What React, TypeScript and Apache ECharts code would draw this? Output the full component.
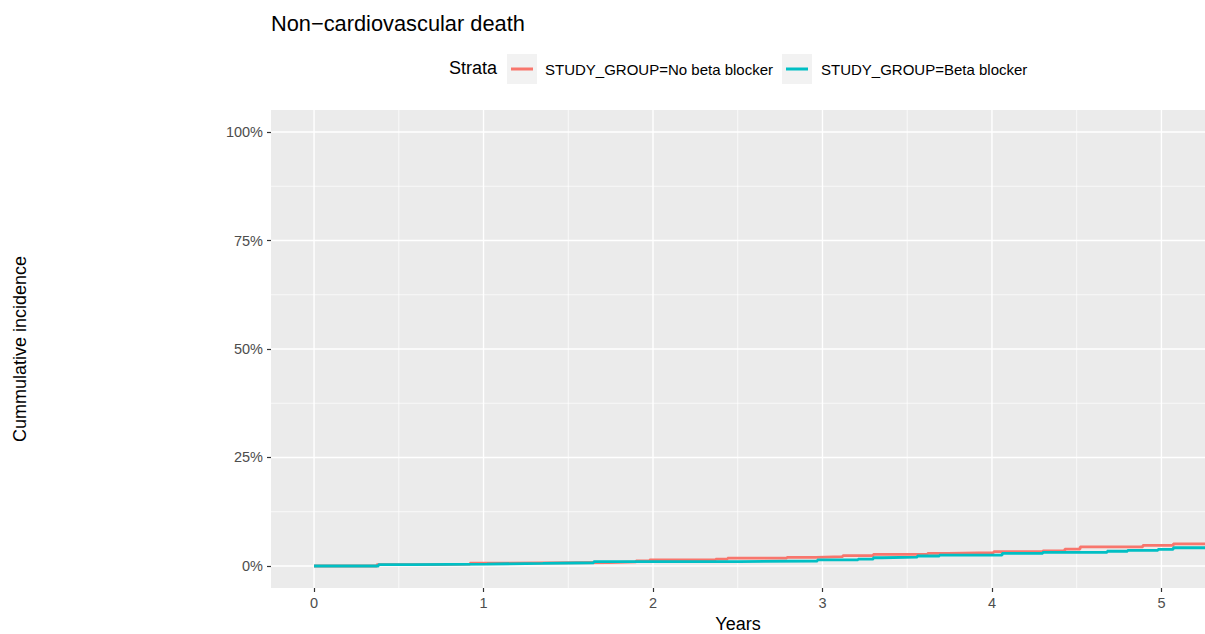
import React, { useEffect, useRef } from "react";
import * as echarts from "echarts";

// Cumulative incidence (%) step data
const noBbTimes = [0, 0.37, 0.70, 0.92, 1.13, 1.74, 1.90, 1.98, 2.37, 2.44, 2.79, 2.96, 3.12, 3.30, 3.62, 3.74, 4.01, 4.30, 4.43, 4.52, 4.89, 5.07, 5.26];
const noBbValues = [0, 0.3, 0.45, 0.65, 0.8, 0.95, 1.2, 1.4, 1.6, 1.8, 2.0, 2.15, 2.4, 2.7, 2.9, 3.05, 3.3, 3.5, 3.9, 4.4, 4.75, 5.1, 5.1];
const bbTimes = [0, 0.38, 0.58, 1.02, 1.35, 1.65, 2.51, 2.97, 3.21, 3.30, 3.35, 3.56, 3.69, 4.06, 4.30, 4.68, 4.80, 4.98, 5.07, 5.26];
const bbValues = [0, 0.3, 0.45, 0.6, 0.75, 1.0, 1.15, 1.4, 1.6, 1.9, 2.05, 2.3, 2.5, 2.9, 3.15, 3.4, 3.6, 3.85, 4.2, 4.2];

const xMajor = [0, 1, 2, 3, 4, 5];
const xMinor = [0.5, 1.5, 2.5, 3.5, 4.5];
const yMajor = [0, 25, 50, 75, 100];
const yMinor = [12.5, 37.5, 62.5, 87.5];

const seriesNames = ["STUDY_GROUP=No beta blocker", "STUDY_GROUP=Beta blocker"];
const colors = ["#F8766D", "#00BFC4"];

const FONT = "Liberation Sans, Arial, Helvetica, sans-serif";

export default function App() {
  const ref = useRef<HTMLDivElement>(null);
  useEffect(() => {
    if (!ref.current) return;
    const chart = echarts.init(ref.current, undefined, { renderer: "svg" });
    const gridData: number[][] = [
      ...xMajor.map((v) => [0, v, 1]),
      ...xMinor.map((v) => [0, v, 0]),
      ...yMajor.map((v) => [1, v, 1]),
      ...yMinor.map((v) => [1, v, 0]),
    ];
    const option: any = {
      animation: false,
      textStyle: { fontFamily: FONT },
      title: {
        text: "Non\u2212cardiovascular death",
        left: 271,
        top: 12,
        padding: 0,
        textStyle: { fontSize: 21.8, fontWeight: "normal", color: "#000", fontFamily: FONT },
      },
      legend: [0, 1].map((i) => ({
        data: [seriesNames[i]],
        left: i === 0 ? 511 : 786,
        top: 60,
        padding: 0,
        icon: "rect",
        itemWidth: 22,
        itemHeight: 3,
        selectedMode: false,
        textStyle: {
          fontSize: 15,
          color: "#000",
          fontFamily: FONT,
          lineHeight: 18,
          padding: [0, 0, 0, i === 0 ? 7 : 8],
        },
      })),
      grid: {
        left: 271,
        right: 0,
        top: 110,
        bottom: 46,
        show: true,
        backgroundColor: "#EBEBEB",
        borderWidth: 0,
        outerBoundsMode: "none",
        containLabel: false,
      },
      xAxis: {
        type: "value",
        min: -0.254,
        max: 5.257,
        name: "Years",
        nameLocation: "middle",
        nameGap: 22,
        nameTextStyle: { fontSize: 18, color: "#000", fontFamily: FONT },
        axisLine: { show: false, onZero: false },
        splitLine: { show: false },
        axisTick: { show: true, length: 4, customValues: xMajor, lineStyle: { color: "#333333", width: 1.2 } },
        axisLabel: { customValues: xMajor, fontSize: 14.5, color: "#4D4D4D", margin: 7, fontFamily: FONT },
      },
      yAxis: {
        type: "value",
        min: -5.07,
        max: 105.07,
        axisLine: { show: false, onZero: false },
        splitLine: { show: false },
        axisTick: { show: true, length: 4, customValues: yMajor, lineStyle: { color: "#333333", width: 1.2 } },
        axisLabel: {
          customValues: yMajor,
          formatter: (v: number) => `${v}%`,
          fontSize: 14.5,
          color: "#4D4D4D",
          margin: 8,
          fontFamily: FONT,
        },
      },
      graphic: [
        { type: "rect", left: 507, top: 54, shape: { width: 30, height: 30 }, style: { fill: "#F2F2F2" }, z: -1 },
        { type: "rect", left: 782, top: 54, shape: { width: 30, height: 30 }, style: { fill: "#F2F2F2" }, z: -1 },
        {
          type: "text",
          left: 449,
          top: 59,
          style: { text: "Strata", fontSize: 18, fill: "#000", fontFamily: FONT },
        },
        {
          type: "text",
          x: 20,
          y: 349,
          rotation: Math.PI / 2,
          style: {
            text: "Cummulative incidence",
            fontSize: 18,
            fill: "#000",
            fontFamily: FONT,
            align: "center",
            verticalAlign: "middle",
          },
        },
      ],
      series: [
        {
          type: "custom",
          silent: true,
          z: 1,
          data: gridData,
          renderItem: (params: any, api: any) => {
            const kind = api.value(0);
            const v = api.value(1);
            const major = api.value(2) === 1;
            const cs = params.coordSys;
            const lw = major ? 1.4 : 0.7;
            if (kind === 0) {
              const x = api.coord([v, 0])[0];
              return { type: "line", shape: { x1: x, y1: cs.y, x2: x, y2: cs.y + cs.height }, style: { stroke: "#FFFFFF", lineWidth: lw } };
            }
            const y = api.coord([0, v])[1];
            return { type: "line", shape: { x1: cs.x, y1: y, x2: cs.x + cs.width, y2: y }, style: { stroke: "#FFFFFF", lineWidth: lw } };
          },
        },
        {
          name: seriesNames[0],
          type: "line",
          step: "end",
          z: 3,
          showSymbol: false,
          symbol: "none",
          color: colors[0],
          lineStyle: { width: 2.8, color: colors[0] },
          data: noBbTimes.map((t, i) => [t, noBbValues[i]]),
        },
        {
          name: seriesNames[1],
          type: "line",
          step: "end",
          z: 4,
          showSymbol: false,
          symbol: "none",
          color: colors[1],
          lineStyle: { width: 2.8, color: colors[1] },
          data: bbTimes.map((t, i) => [t, bbValues[i]]),
        },
      ],
    };
    chart.setOption(option);
    return () => chart.dispose();
  }, []);
  return <div ref={ref} style={{ position: "absolute", left: 0, top: 0, width: 1205, height: 634 }} />;
}
